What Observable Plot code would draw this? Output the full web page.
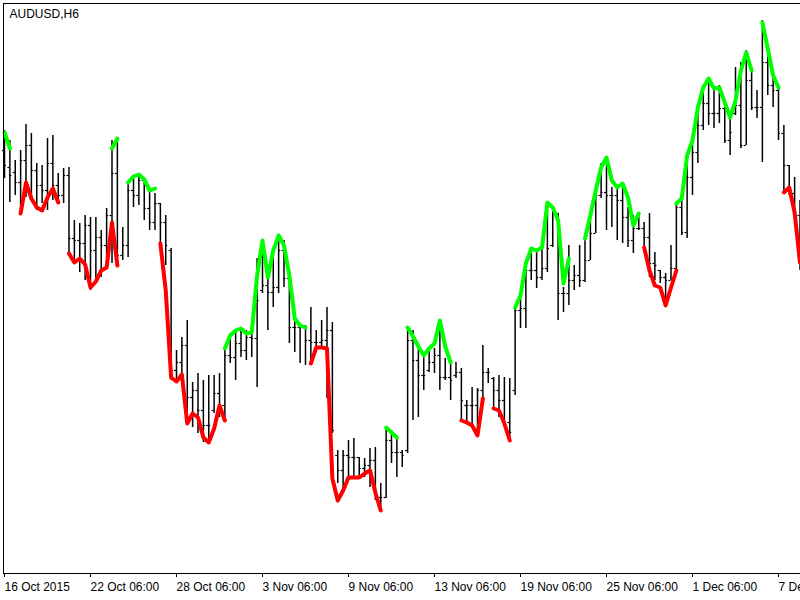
<!DOCTYPE html>
<html><head><meta charset="utf-8">
<script src="https://cdn.jsdelivr.net/npm/d3@7"></script>
<script src="https://cdn.jsdelivr.net/npm/@observablehq/plot@0.6"></script>
<style>html,body{margin:0;padding:0;background:#fff;overflow:hidden}</style>
</head><body><div id="chart"></div>
<script>
const symbol = "AUDUSD,H6";
const tickLabels = ["16 Oct 2015","22 Oct 06:00","28 Oct 06:00","3 Nov 06:00","9 Nov 06:00","13 Nov 06:00","19 Nov 06:00","25 Nov 06:00","1 Dec 06:00","7 Dec 06:00"];
const tickBars = [0,16,32,48,64,80,96,112,128,144];

const highs = [
0.72960,0.72880,0.72720,0.72800,0.73008,0.72936,0.72696,0.72680,0.72896,0.72920, // 0
0.72616,0.72656,0.72664,0.72240,0.72216,0.72280,0.72264,0.72264,0.72160,0.72336, // 10
0.72880,0.72896,0.72184,0.72544,0.72576,0.72616,0.72576,0.72480,0.72456,0.72376, // 20
0.72280,0.72016,0.71200,0.71304,0.71440,0.70944,0.71016,0.70960,0.71000,0.71000, // 30
0.71016,0.71224,0.71336,0.71344,0.71384,0.71360,0.71336,0.71936,0.72080,0.71816, // 40
0.71976,0.72104,0.72080,0.71840,0.71440,0.71416,0.71400,0.71544,0.71360,0.71440, // 50
0.71544,0.71424,0.70400,0.70400,0.70480,0.70496,0.70344,0.70336,0.70416,0.70424, // 60
0.70136,0.70576,0.70560,0.70504,0.70400,0.71384,0.71360,0.71224,0.71176,0.71200, // 70
0.71216,0.71440,0.71136,0.71104,0.71104,0.71056,0.70800,0.70904,0.70896,0.71240, // 80
0.71056,0.70984,0.71000,0.70984,0.70976,0.71544,0.71640,0.71920,0.72024,0.71984, // 90
0.72024,0.72384,0.72344,0.72296,0.71704,0.72040,0.71880,0.72040,0.72096,0.72280, // 100
0.72504,0.72696,0.72744,0.72504,0.72520,0.72536,0.72344,0.72280,0.72280,0.72224, // 110
0.72296,0.71984,0.71840,0.71816,0.72040,0.72376,0.72400,0.72784,0.72920,0.73176, // 120
0.73320,0.73384,0.73280,0.73320,0.73200,0.73096,0.73464,0.73504,0.73600,0.73440, // 130
0.73280,0.73840,0.73600,0.73376,0.73296,0.73000,0.72680,0.72584,0.72400           // 140
];
const lows = [
0.72576,0.72384,0.72440,0.72296,0.72424,0.72424,0.72320,0.72376,0.72320,0.72400,
0.72376,0.72376,0.71976,0.71896,0.71824,0.71760,0.71680,0.71776,0.71784,0.71896,
0.71896,0.71864,0.71920,0.71944,0.72344,0.72360,0.72240,0.72160,0.72160,0.72056,
0.71880,0.70960,0.70960,0.70960,0.70616,0.70584,0.70536,0.70464,0.70480,0.70696,
0.70664,0.70664,0.71096,0.70960,0.71144,0.71120,0.71144,0.70904,0.71656,0.71360,
0.71544,0.71656,0.71704,0.71256,0.71184,0.71096,0.71080,0.71080,0.71200,0.71224,
0.70816,0.70536,0.70136,0.70080,0.70160,0.70184,0.70176,0.70184,0.70104,0.70000,
0.69944,0.70016,0.70296,0.70184,0.70264,0.70376,0.70640,0.70664,0.70880,0.71024,
0.71016,0.70880,0.70960,0.70800,0.70976,0.70640,0.70616,0.70584,0.70536,0.70824,
0.70936,0.70720,0.70664,0.70616,0.70496,0.70840,0.71376,0.71376,0.71760,0.71696,
0.71760,0.71824,0.72024,0.71440,0.71504,0.71560,0.71680,0.71704,0.71744,0.71920,
0.72136,0.72416,0.72160,0.72184,0.72080,0.72056,0.72024,0.71976,0.72160,0.72024,
0.71784,0.71760,0.71736,0.71560,0.71760,0.71840,0.72120,0.72096,0.72440,0.72696,
0.72960,0.73000,0.72976,0.73016,0.72856,0.72760,0.73080,0.72816,0.72840,0.73120,
0.73056,0.72704,0.73240,0.73144,0.72880,0.72464,0.72440,0.72264,0.71840
];
const opens = [
0.72800,0.72664,0.72624,0.72544,0.72720,0.72840,0.72640,0.72520,0.72480,0.72696,
0.72520,0.72440,0.72600,0.72096,0.72080,0.72056,0.72200,0.72000,0.72104,0.72040,
0.72280,0.72616,0.71960,0.72040,0.72480,0.72440,0.72560,0.72336,0.72224,0.72376,
0.72224,0.72000,0.71040,0.71104,0.71240,0.70824,0.70880,0.70720,0.70600,0.70720,
0.70856,0.70760,0.71160,0.71144,0.71256,0.71200,0.71304,0.71296,0.71680,0.71720,
0.71664,0.71704,0.72000,0.71776,0.71384,0.71384,0.71384,0.71280,0.71264,0.71264,
0.71280,0.71360,0.70360,0.70240,0.70360,0.70344,0.70344,0.70256,0.70280,0.70320,
0.70024,0.70024,0.70480,0.70384,0.70384,0.70400,0.71280,0.71120,0.71000,0.71040,
0.71104,0.71160,0.70984,0.70984,0.71000,0.71024,0.70760,0.70760,0.70760,0.70880,
0.71024,0.70976,0.70880,0.70800,0.70624,0.70880,0.71520,0.71536,0.71840,0.71840,
0.71784,0.71856,0.72040,0.72296,0.71656,0.71656,0.71760,0.71800,0.71760,0.71920,
0.72136,0.72440,0.72464,0.72440,0.72440,0.72400,0.72264,0.72080,0.72176,0.72176,
0.72104,0.71896,0.71840,0.71784,0.71760,0.71856,0.72344,0.72144,0.72584,0.72784,
0.73000,0.73176,0.73096,0.73096,0.73136,0.72880,0.73096,0.73160,0.72840,0.73360,
0.73144,0.73144,0.73504,0.73320,0.73280,0.72936,0.72680,0.72456,0.72280
];
const closes = [
0.72680,0.72600,0.72544,0.72720,0.72840,0.72640,0.72520,0.72480,0.72696,0.72520,
0.72440,0.72600,0.72096,0.72080,0.72056,0.72200,0.72000,0.72104,0.72040,0.72280,
0.72616,0.71960,0.72040,0.72480,0.72440,0.72560,0.72336,0.72224,0.72376,0.72224,
0.72040,0.71040,0.71104,0.71240,0.70824,0.70880,0.70720,0.70600,0.70600,0.70856,
0.70760,0.71160,0.71144,0.71256,0.71200,0.71304,0.71296,0.71600,0.71720,0.71664,
0.71704,0.72000,0.71776,0.71384,0.71384,0.71384,0.71280,0.71264,0.71264,0.71280,
0.71360,0.70560,0.70240,0.70360,0.70344,0.70344,0.70256,0.70280,0.70320,0.70024,
0.70024,0.70480,0.70384,0.70384,0.70360,0.71280,0.71120,0.71000,0.71000,0.71104,
0.71160,0.70984,0.70984,0.70960,0.71024,0.70800,0.70760,0.70760,0.70880,0.71024,
0.71024,0.70880,0.70800,0.70624,0.70544,0.71520,0.71536,0.71840,0.71840,0.71784,
0.71856,0.72016,0.72296,0.71656,0.71656,0.71760,0.71800,0.71760,0.71920,0.72136,
0.72440,0.72464,0.72440,0.72440,0.72400,0.72264,0.72080,0.72176,0.72176,0.72104,
0.71896,0.71880,0.71784,0.71760,0.71856,0.72344,0.72144,0.72584,0.72784,0.73000,
0.73176,0.73096,0.73096,0.73136,0.72880,0.72944,0.73160,0.72840,0.73360,0.73144,
0.73144,0.73504,0.73320,0.73280,0.72936,0.72680,0.72456,0.72280,0.71920
];
// indicator: up-trend (green) and down-trend (red) line values, null = not drawn
const upTrend = [
0.72944,0.72816,null,null,null,null,null,null,null,null,                          // 0
null,null,null,null,null,null,null,null,null,null,                                // 10
0.72816,0.72896,null,0.72544,0.72592,0.72608,0.72568,0.72480,0.72496,null,        // 20
null,null,null,null,null,null,null,null,null,null,                                // 30
null,0.71216,0.71320,0.71360,0.71376,0.71336,0.71344,0.71800,0.72080,0.71784,     // 40
0.72000,0.72120,0.72040,0.71800,0.71456,0.71400,0.71384,null,null,null,           // 50
null,null,null,null,null,null,null,null,null,null,                                // 60
null,0.70584,0.70544,0.70504,null,0.71384,0.71312,0.71232,0.71160,0.71216,        // 70
0.71256,0.71440,0.71232,0.71104,null,null,null,null,null,null,                    // 80
null,null,null,null,null,0.71544,0.71640,0.71896,0.72016,0.72000,                 // 90
0.72024,0.72384,0.72344,0.72240,0.71736,0.71936,null,null,0.72096,0.72280,        // 100
0.72480,0.72664,0.72744,0.72560,0.72504,0.72536,0.72424,0.72200,0.72296,null,     // 110
null,null,null,null,null,0.72376,0.72416,0.72760,0.72880,0.73144,                 // 120
0.73304,0.73376,0.73296,0.73304,0.73184,0.73064,0.73200,0.73440,0.73584,0.73440,  // 130
null,0.73824,0.73616,0.73400,0.73304,null,null,null,null                          // 140
];
const downTrend = [
null,null,null,0.72296,0.72544,0.72416,0.72344,0.72320,0.72424,0.72496,           // 0
0.72384,null,0.71976,0.71904,0.71936,0.71888,0.71704,0.71752,0.71840,0.71864,     // 10
0.72224,0.71880,null,null,null,null,null,null,null,0.72056,                       // 20
0.71680,0.70984,0.70952,0.71008,0.70616,0.70696,0.70664,0.70504,0.70464,0.70576,  // 30
0.70760,0.70640,null,null,null,null,null,null,null,null,                          // 40
null,null,null,null,null,null,null,0.71096,0.71224,0.71224,                       // 50
0.71216,0.70176,0.70000,0.70080,0.70184,0.70184,0.70184,0.70216,0.70240,0.70064,  // 60
0.69920,null,null,null,null,null,null,null,null,null,                             // 70
null,null,null,null,null,0.70640,0.70624,0.70600,0.70520,0.70816,                 // 80
null,0.70736,0.70720,0.70616,0.70480,null,null,null,null,null,                    // 90
null,null,null,null,null,null,null,null,null,null,                                // 100
null,null,null,null,null,null,null,null,null,0.72024,                             // 110
0.71840,0.71720,0.71704,0.71560,0.71704,0.71840,null,null,null,null,              // 120
null,null,null,null,null,null,null,null,null,null,                                // 130
null,null,null,null,null,0.72464,0.72504,0.72304,0.71904                          // 140
];

const bars = highs.map((h, i) => ({i, high: h, low: lows[i], open: opens[i], close: closes[i]}));
const upData = upTrend.map((v, i) => ({i, v}));
const dnData = downTrend.map((v, i) => ({i, v}));
const ticks = tickBars.map((b, j) => ({b, label: tickLabels[j]}));

const xDomain = [-0.186, 148.093];
const yDomain = [0.69416, 0.73976];

const chart = Plot.plot({
  width: 800, height: 600,
  marginTop: 3, marginBottom: 27, marginLeft: 3, marginRight: 0,
  x: {domain: xDomain, axis: null},
  y: {domain: yDomain, axis: null},
  style: {background: "#fff", fontFamily: "'Liberation Sans', Arial, sans-serif", fontSize: "12px", color: "#000"},
  marks: [
    Plot.ruleX(bars, {x: "i", y1: "low", y2: "high", stroke: "#000", strokeWidth: 1.5}),
    Plot.ruleY(bars, {y: "open", x1: "i", x2: "i", insetLeft: -2, stroke: "#000", strokeWidth: 1.2}),
    Plot.ruleY(bars, {y: "close", x1: "i", x2: "i", insetRight: -2, stroke: "#000", strokeWidth: 1.2}),
    Plot.line(upData, {x: "i", y: "v", stroke: "#00ff00", strokeWidth: 4, strokeLinecap: "round", strokeLinejoin: "round"}),
    Plot.line(dnData, {x: "i", y: "v", stroke: "#ff0000", strokeWidth: 4, strokeLinecap: "round", strokeLinejoin: "round"}),
    Plot.ruleY([yDomain[1]], {stroke: "#000"}),
    Plot.ruleY([yDomain[0]], {stroke: "#000"}),
    Plot.ruleX([xDomain[0]], {stroke: "#000"}),
    Plot.ruleX(ticks, {x: "b", insetTop: 570, insetBottom: -4, stroke: "#000"}),
    Plot.text(ticks, {x: "b", text: "label", frameAnchor: "bottom", textAnchor: "start", lineAnchor: "top", dy: 9, dx: 0, fill: "#000", fontSize: 12}),
    Plot.text([symbol], {frameAnchor: "top-left", text: d => d, textAnchor: "start", lineAnchor: "top", dx: 6, dy: 6, fill: "#000", fontSize: 12})
  ]
});
document.getElementById("chart").appendChild(chart);
</script>
</body></html>
